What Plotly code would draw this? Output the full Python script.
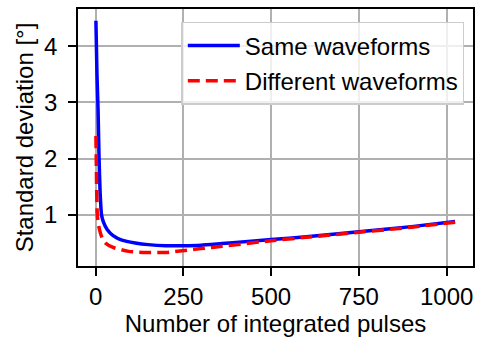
import plotly.graph_objects as go

# Same waveforms
n_same = [1, 4, 7, 10, 13, 17, 22, 33, 50, 75, 113, 150, 200, 250, 300, 360, 400, 500, 600, 750, 900, 1024]
sd_same = [4.45, 3.5, 2.9, 2.0, 1.4, 1.0, 0.88, 0.74, 0.63, 0.55, 0.50, 0.47, 0.45, 0.45, 0.46, 0.49, 0.51, 0.56, 0.61, 0.70, 0.79, 0.88]

# Different waveforms
n_diff = [1, 2, 3, 5, 8, 11, 18, 28, 50, 94, 143, 200, 247, 300, 360, 500, 600, 750, 900, 1024]
sd_diff = [2.40, 2.0, 1.5, 1.0, 0.85, 0.74, 0.60, 0.50, 0.42, 0.35, 0.33, 0.33, 0.36, 0.40, 0.44, 0.54, 0.60, 0.69, 0.78, 0.87]

x_ticks = [0, 250, 500, 750, 1000]
y_ticks = [1, 2, 3, 4]

FONT = "Liberation Sans, Arial, sans-serif"
FS = 24

fig = go.Figure()
fig.add_trace(go.Scatter(x=n_same, y=sd_same, mode="lines", name="Same waveforms",
                         line=dict(color="#0000ff", width=3.5, shape="spline", smoothing=0.6),
                         legendgroup="a"))
fig.add_trace(go.Scatter(x=n_diff, y=sd_diff, mode="lines", name="Different waveforms",
                         line=dict(color="#ff0000", width=3.5, dash="12px,6px", shape="spline", smoothing=0.6),
                         legendgroup="b"))

axis_common = dict(showline=True, linecolor="black", linewidth=1.5, mirror=True,
                   ticks="outside", ticklen=8, tickwidth=1.5, tickcolor="black",
                   showgrid=True, gridcolor="#b0b0b0", gridwidth=1.8, zeroline=False,
                   automargin=False,
                   tickfont=dict(size=FS, color="black", family=FONT))

fig.update_xaxes(range=[-50, 1075], tickvals=x_ticks,
                 title=dict(text="Number of integrated pulses", font=dict(size=FS, color="black", family=FONT), standoff=6),
                 **axis_common)
fig.update_yaxes(range=[0.09, 4.66], tickvals=y_ticks, ticklabelstandoff=6,
                 title=dict(text="Standard deviation [°]", font=dict(size=FS, color="black", family=FONT), standoff=4),
                 **axis_common)

fig.update_layout(
    width=477, height=340,
    margin=dict(l=78, r=4, t=9, b=74),
    plot_bgcolor="white", paper_bgcolor="white",
    font=dict(family=FONT, color="black", size=FS),
    legend=dict(x=0.978, y=0.95, xanchor="right", yanchor="top",
                bgcolor="rgba(255,255,255,0.8)", bordercolor="#cccccc", borderwidth=1.5,
                font=dict(size=FS, family=FONT), tracegroupgap=1, traceorder="grouped",
                itemwidth=52),
)

fig.write_html("out.html", config={"displayModeBar": False},
               post_script="document.body.style.margin='0';")
